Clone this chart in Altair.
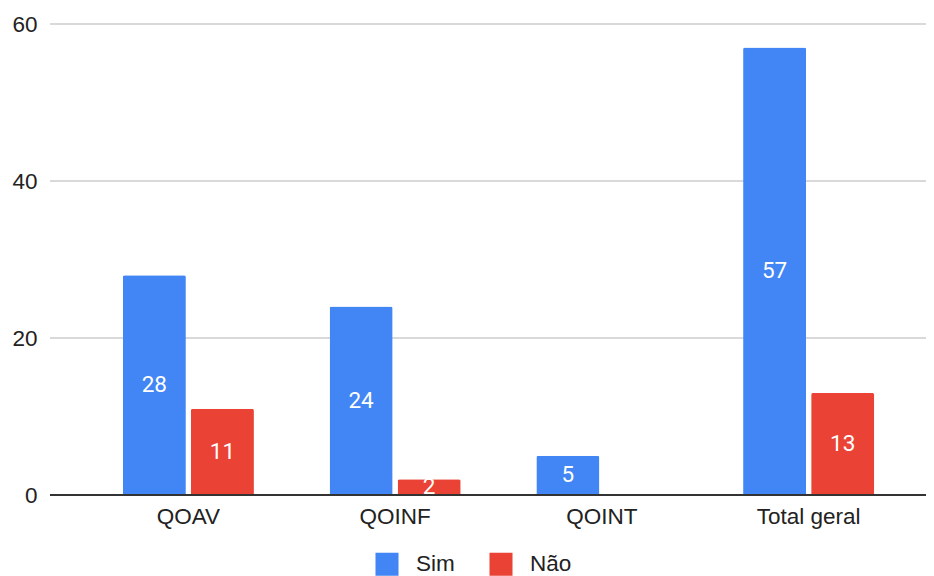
import altair as alt
import pandas as pd

categories = ["QOAV", "QOINF", "QOINT", "Total geral"]
sim = [28, 24, 5, 57]
nao = [11, 2, 0, 13]
series = ["Sim", "Não"]
colors = ["#4285F4", "#EA4335"]
y_ticks = [0, 20, 40, 60]

rows = []
for c, s, n in zip(categories, sim, nao):
    rows.append({"cat": c, "serie": "Sim", "valor": s})
    rows.append({"cat": c, "serie": "Não", "valor": n})
df = pd.DataFrame(rows)
df = df[df["valor"] > 0]
grid_df = pd.DataFrame({"v": y_ticks})

AXFONT = "Liberation Sans"
LBFONT = "Roboto"
W, H = 827, 471
ydom = alt.Scale(domain=[0, 60], nice=False)
yaxis = alt.Axis(values=y_ticks, labelFontSize=22.5, labelColor="#222222", labelFont=AXFONT,
                 labelPadding=48, ticks=False, domain=False, grid=False)

x = alt.X(
    "cat:N", sort=categories, title=None,
    scale=alt.Scale(paddingInner=0.366, paddingOuter=0.183),
    axis=alt.Axis(labelAngle=0, labelFontSize=22.5, labelColor="#222222", labelFont=AXFONT,
                  labelPadding=10, ticks=False, domain=False, grid=False),
)
xo = alt.XOffset("serie:N", sort=series, scale=alt.Scale(paddingInner=0.074, paddingOuter=0))
y = alt.Y("valor:Q", title=None, scale=ydom, axis=yaxis)
color = alt.Color(
    "serie:N", sort=series,
    scale=alt.Scale(domain=series, range=colors),
    legend=alt.Legend(orient="none", legendX=290, legendY=528, direction="horizontal",
                      title=None, symbolType="square", symbolSize=530, labelFontSize=22.5,
                      labelFont=AXFONT, labelColor="#222222", columnPadding=34,
                      labelOffset=17, symbolStrokeWidth=0, symbolOpacity=1),
)

grid = alt.Chart(grid_df).transform_filter("datum.v > 0").mark_rule(
    color="#cccccc", strokeWidth=1.5
).encode(
    y=alt.Y("v:Q", title=None, scale=ydom, axis=yaxis),
    x=alt.value(-35), x2=alt.value(W + 14),
)
base = alt.Chart(grid_df).transform_filter("datum.v == 0").mark_rule(
    color="#333333", strokeWidth=2
).encode(
    y=alt.Y("v:Q", title=None, scale=ydom, axis=yaxis),
    x=alt.value(-35), x2=alt.value(W + 14),
)

bars = alt.Chart(df).mark_bar(cornerRadiusTopLeft=2, cornerRadiusTopRight=2).encode(
    x=x, xOffset=xo, y=y, color=color
)
labels = alt.Chart(df).mark_text(
    color="white", fontSize=22.5, font=LBFONT, baseline="middle", align="center"
).encode(
    x=x, xOffset=xo,
    y=alt.Y("mid:Q", title=None, scale=ydom, axis=yaxis),
    text=alt.Text("valor:Q"),
).transform_calculate(mid="datum.valor / 2")

chart = alt.layer(grid, bars, base, labels).properties(
    width=W, height=H,
    padding={"left": 77, "top": 16, "right": 14, "bottom": 81},
    autosize="none",
).configure_view(stroke=None)

chart.save("out.html", embed_options={"renderer": "svg", "actions": False})
